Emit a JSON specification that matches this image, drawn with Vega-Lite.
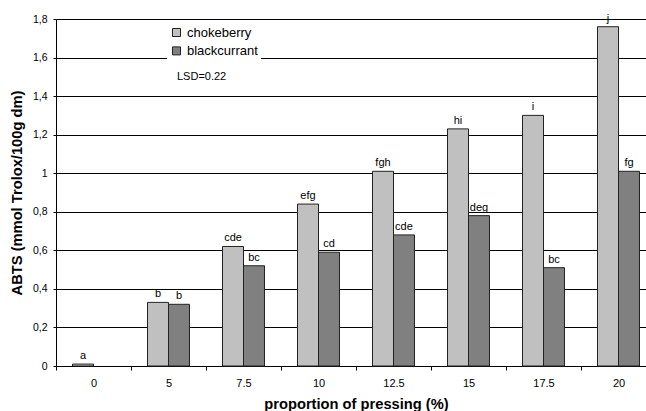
{
  "$schema": "https://vega.github.io/schema/vega-lite/v6.json",
  "autosize": {"type": "none"},
  "padding": {"left": 56, "top": 19, "right": 0, "bottom": 45},
  "width": 590,
  "height": 347,
  "background": "white",
  "config": {
    "font": "Liberation Sans",
    "view": {"stroke": null},
    "axis": {"labelFont": "Liberation Sans", "titleFont": "Liberation Sans", "labelColor": "#000", "titleColor": "#000", "domainColor": "#000", "tickColor": "#000"}
  },
  "data": {
    "values": [
      {"p": "0", "fruit": "chokeberry", "v": 0.01, "lab": "a"},
      {"p": "5", "fruit": "chokeberry", "v": 0.33, "lab": "b"},
      {"p": "5", "fruit": "blackcurrant", "v": 0.32, "lab": "b"},
      {"p": "7.5", "fruit": "chokeberry", "v": 0.62, "lab": "cde"},
      {"p": "7.5", "fruit": "blackcurrant", "v": 0.52, "lab": "bc"},
      {"p": "10", "fruit": "chokeberry", "v": 0.84, "lab": "efg"},
      {"p": "10", "fruit": "blackcurrant", "v": 0.59, "lab": "cd"},
      {"p": "12.5", "fruit": "chokeberry", "v": 1.01, "lab": "fgh"},
      {"p": "12.5", "fruit": "blackcurrant", "v": 0.68, "lab": "cde"},
      {"p": "15", "fruit": "chokeberry", "v": 1.23, "lab": "hi"},
      {"p": "15", "fruit": "blackcurrant", "v": 0.78, "lab": "deg"},
      {"p": "17.5", "fruit": "chokeberry", "v": 1.30, "lab": "i"},
      {"p": "17.5", "fruit": "blackcurrant", "v": 0.51, "lab": "bc"},
      {"p": "20", "fruit": "chokeberry", "v": 1.76, "lab": "j"},
      {"p": "20", "fruit": "blackcurrant", "v": 1.01, "lab": "fg"}
    ]
  },
  "encoding": {
    "x": {
      "field": "p", "type": "nominal",
      "sort": ["0", "5", "7.5", "10", "12.5", "15", "17.5", "20"],
      "scale": {"range": [0, 600], "paddingInner": 0, "paddingOuter": 0},
      "axis": {
        "title": "proportion of pressing (%)",
        "titleFontSize": 14.7, "titleFontWeight": "bold", "titlePadding": 8,
        "labelAngle": 0, "labelFontSize": 11, "labelPadding": 7,
        "tickBand": "extent", "tickSize": 4, "grid": false, "domain": true
      }
    },
    "xOffset": {
      "field": "fruit", "type": "nominal",
      "sort": ["chokeberry", "blackcurrant"],
      "scale": {"paddingOuter": 0.786, "paddingInner": 0}
    },
    "y": {
      "field": "v", "type": "quantitative",
      "scale": {"domain": [0, 1.8], "nice": false},
      "axis": {
        "title": "ABTS (mmol Trolox/100g dm)",
        "titleFontSize": 14.7, "titleFontWeight": "bold", "titlePadding": 8,
        "values": [0, 0.2, 0.4, 0.6, 0.8, 1, 1.2, 1.4, 1.6, 1.8],
        "labelExpr": "replace(format(datum.value, '.1~f'), '.', ',')",
        "labelFontSize": 10.5, "labelPadding": 6, "tickSize": 3, "labelOverlap": false,
        "grid": true, "gridColor": "#000", "gridWidth": 1, "gridOpacity": 1
      }
    }
  },
  "layer": [
    {
      "mark": {"type": "bar", "stroke": "#222", "strokeWidth": 1, "clip": false},
      "encoding": {
        "color": {
          "field": "fruit", "type": "nominal",
          "sort": ["chokeberry", "blackcurrant"],
          "scale": {"domain": ["chokeberry", "blackcurrant"], "range": ["#C0C0C0", "#808080"]},
          "legend": {
            "title": null, "orient": "none", "legendX": 111, "legendY": 4,
            "fillColor": "white", "padding": 3,
            "symbolType": "square", "symbolSize": 64, "symbolStrokeColor": "#222", "symbolStrokeWidth": 1,
            "labelFontSize": 13, "labelFont": "Liberation Sans", "labelColor": "#000", "labelOffset": 4,
            "rowPadding": 4.4
          }
        }
      }
    },
    {
      "mark": {"type": "text", "baseline": "bottom", "dy": -3, "fontSize": 11, "font": "Liberation Sans", "fill": "#000"},
      "encoding": {"text": {"field": "lab"}}
    },
    {
      "transform": [{"filter": "datum.p == '5' && datum.fruit == 'chokeberry'"}],
      "mark": {"type": "text", "align": "left", "baseline": "middle", "fontSize": 11, "font": "Liberation Sans", "fill": "#000", "dx": 19},
      "encoding": {
        "y": {"datum": 1.5, "type": "quantitative"},
        "text": {"value": "LSD=0.22"}
      }
    }
  ]
}
